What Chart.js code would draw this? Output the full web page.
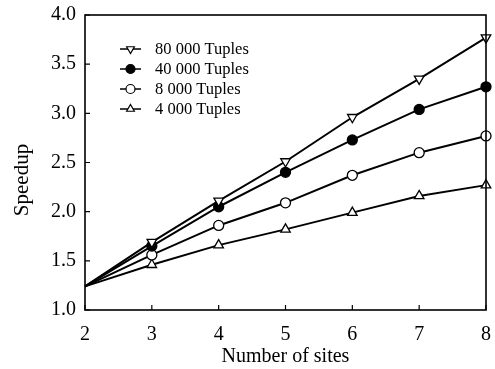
<!DOCTYPE html>
<html><head><meta charset="utf-8">
<script src="https://cdn.jsdelivr.net/npm/chart.js@4"></script>
<style>html,body{margin:0;padding:0;background:#fff}#wrap{width:495px;height:369px}</style>
</head><body><div id="wrap"><canvas id="c" width="495" height="369"></canvas></div>
<script>
const sites = [2, 3, 4, 5, 6, 7, 8];
const tuples80000 = [1.24, 1.69, 2.11, 2.51, 2.96, 3.35, 3.77];
const tuples40000 = [1.24, 1.65, 2.05, 2.40, 2.73, 3.04, 3.27];
const tuples8000  = [1.24, 1.56, 1.86, 2.09, 2.37, 2.60, 2.77];
const tuples4000  = [1.24, 1.46, 1.66, 1.82, 1.99, 2.16, 2.27];
const seriesLabels = ['80 000 Tuples', '40 000 Tuples', '8 000 Tuples', '4 000 Tuples'];
const yTicks = [1.0, 1.5, 2.0, 2.5, 3.0, 3.5, 4.0];
const xTitle = 'Number of sites';
const yTitle = 'Speedup';

const serif = '"Liberation Serif", "DejaVu Serif", serif';
const pts = arr => sites.map((s, i) => ({x: s, y: arr[i]}));
const styles = [
  {pointStyle: 'triangle', rot: 180, fill: '#fff', r: 5.5},
  {pointStyle: 'circle', rot: 0, fill: '#000', r: 5},
  {pointStyle: 'circle', rot: 0, fill: '#fff', r: 5},
  {pointStyle: 'triangle', rot: 0, fill: '#fff', r: 5.5}
];
const allData = [tuples80000, tuples40000, tuples8000, tuples4000];

const datasets = allData.map((d, i) => ({
  label: seriesLabels[i],
  data: pts(d),
  borderColor: '#000',
  borderWidth: 2,
  pointStyle: styles[i].pointStyle,
  pointRotation: styles[i].rot,
  pointRadius: sites.map((s, j) => j === 0 ? 0 : styles[i].r),
  pointBackgroundColor: styles[i].fill,
  pointBorderColor: '#000',
  pointBorderWidth: 1.3,
  tension: 0,
  clip: false
}));

const decor = {
  id: 'decor',
  afterDraw(chart) {
    const ctx = chart.ctx, a = chart.chartArea;
    const xs = chart.scales.x, ys = chart.scales.y;
    ctx.save();
    ctx.strokeStyle = '#000';
    ctx.lineWidth = 1.6;
    ctx.strokeRect(a.left, a.top, a.right - a.left, a.bottom - a.top);
    ctx.lineWidth = 1.2;
    ctx.beginPath();
    sites.forEach(s => {
      const px = xs.getPixelForValue(s);
      ctx.moveTo(px, a.bottom); ctx.lineTo(px, a.bottom - 5);
    });
    yTicks.forEach(v => {
      const py = ys.getPixelForValue(v);
      ctx.moveTo(a.left, py); ctx.lineTo(a.left + 5, py);
    });
    ctx.stroke();
    // y title
    ctx.fillStyle = '#000';
    ctx.font = '21px ' + serif;
    ctx.textAlign = 'center';
    ctx.textBaseline = 'middle';
    ctx.translate(22, 180);
    ctx.rotate(-Math.PI / 2);
    ctx.fillText(yTitle, 0, 0);
    ctx.restore();
    // legend
    ctx.save();
    ctx.font = '16.5px ' + serif;
    ctx.textAlign = 'left';
    ctx.textBaseline = 'middle';
    seriesLabels.forEach((lab, i) => {
      const y = 49 + 20 * i;
      ctx.strokeStyle = '#000';
      ctx.lineWidth = 1.5;
      ctx.beginPath(); ctx.moveTo(120, y); ctx.lineTo(141, y); ctx.stroke();
      ctx.fillStyle = styles[i].fill;
      ctx.lineWidth = 1.2;
      Chart.helpers.drawPoint(ctx, {pointStyle: styles[i].pointStyle, rotation: styles[i].rot, radius: 4.5, borderWidth: 1.2}, 130.5, y);
      ctx.fillStyle = '#000';
      ctx.fillText(lab, 155, y + 1);
    });
    ctx.restore();
  }
};

new Chart(document.getElementById('c'), {
  type: 'line',
  data: {datasets},
  options: {
    responsive: false,
    animation: false,
    layout: {padding: {top: 15, right: 9, left: 0, bottom: 0}},
    plugins: {legend: {display: false}, tooltip: {enabled: false}},
    scales: {
      x: {
        type: 'linear', min: 2, max: 8,
        afterFit(s) { s.height = 59; s.paddingLeft = 0; s.paddingRight = 0; },
        grid: {display: false, drawTicks: false},
        border: {display: false},
        ticks: {stepSize: 1, padding: 13, color: '#000', font: {family: serif, size: 20}},
        title: {display: true, text: xTitle, color: '#000', font: {family: serif, size: 20}, padding: {top: 0, bottom: 0}}
      },
      y: {
        type: 'linear', min: 1, max: 4,
        afterFit(s) { s.width = 85; s.paddingTop = 0; s.paddingBottom = 0; },
        grid: {display: false, drawTicks: false},
        border: {display: false},
        ticks: {stepSize: 0.5, padding: 9, color: '#000', font: {family: serif, size: 20},
          callback: v => Number(v).toFixed(1)}
      }
    }
  },
  plugins: [decor]
});
</script></body></html>
